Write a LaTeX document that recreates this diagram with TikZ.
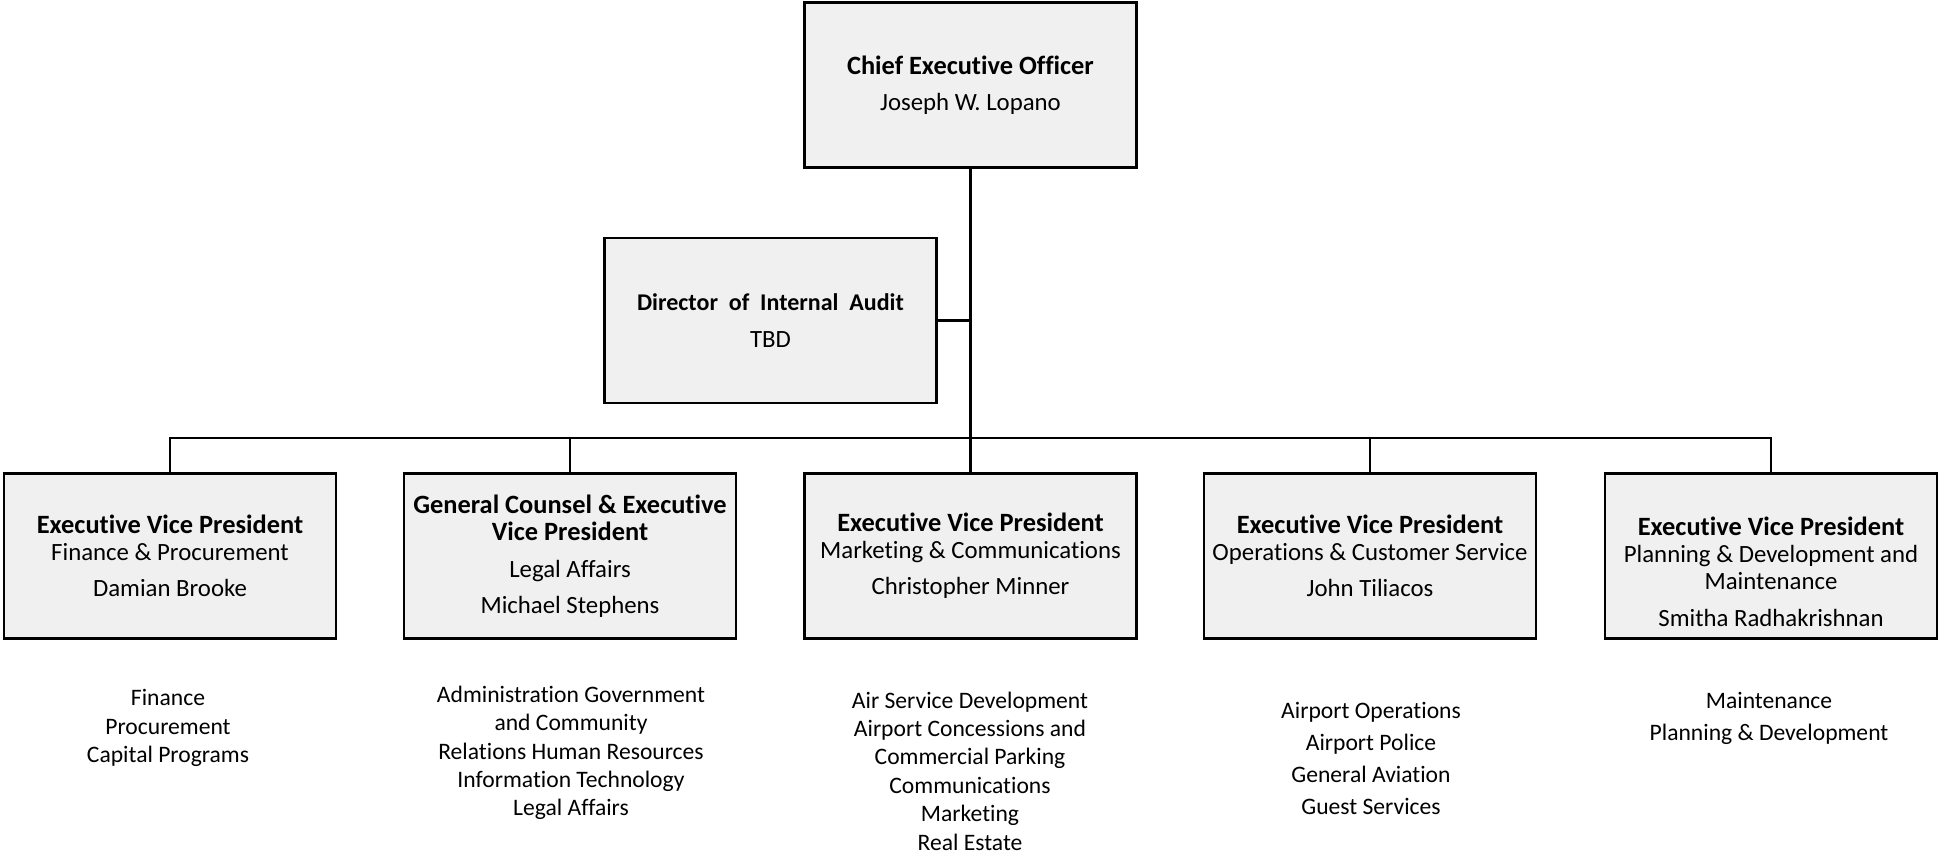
\documentclass[tikz,border=0pt]{standalone}
\usepackage{fontspec}
\setmainfont{Carlito}[Ligatures=CommonOff]
\usepackage{tikz}
\usetikzlibrary{positioning}
\definecolor{boxGray}{HTML}{F0F0F0}
\newcommand{\ttl}[1]{{\fontsize{13.2}{13.5}\selectfont\bfseries #1}}
\tikzset{box/.style={draw, line width=1.3pt, fill=boxGray, align=center,
  minimum width=166pt, minimum height=82.5pt, inner sep=2pt,
  font=\fontsize{12.4}{13.5}\selectfont}}
\tikzset{lst/.style={align=center, font=\fontsize{11.8}{14.2}\selectfont}}
\tikzset{lstw/.style={align=center, font=\fontsize{11.8}{16}\selectfont}}
\tikzset{ln/.style={draw, line width=1.3pt}}

\begin{document}
\begin{tikzpicture}[x=0.5pt, y=-0.5pt]
        \useasboundingbox (0,0) rectangle (1938,854);
        %% top
        \node (ceo) at (970.5,85) [box] {\ttl{Chief Executive Officer}\\[4.5pt] Joseph W. Lopano};
        \node (dir) at (770.5,320.5) [box] {{\fontsize{12}{13.5}\selectfont\bfseries Director~ of~ Internal~ Audit}\\[5pt] TBD};
        %% executive vice presidents
        \node (evp1) at (170,556) [box] {\ttl{Executive Vice President}\\ Finance \& Procurement\\[4.5pt] Damian Brooke};
        \node (evp2) at (570,556) [box] {\ttl{General Counsel \& Executive}\\ \ttl{Vice President}\\[5pt] Legal Affairs\\[4.5pt] Michael Stephens};
        \node (evp3) at (970.5,556) [box] {\ttl{Executive Vice President}\\ Marketing \& Communications\\[4.5pt] Christopher Minner};
        \node (evp4) at (1370,556) [box] {\ttl{Executive Vice President}\\ Operations \& Customer Service\\[4.5pt] John Tiliacos};
        \node (evp5) at (1771,556) [box] {\rule{0pt}{25pt}\ttl{Executive Vice President}\\ Planning \& Development and\\ Maintenance\\[5pt] Smitha Radhakrishnan};
        \coordinate (bus) at (970.5,438);
        \draw [ln] (ceo) -- (evp3);
        \draw [ln] (dir.east) -- (dir.east -| ceo.south);
        \draw [ln] (evp1.north) |- (bus) -| (evp5.north);
        \draw [ln] (evp2.north) |- (bus);
        \draw [ln] (evp4.north) |- (bus);
        %% departments
        \node (d1) at (168,728) [lst] {Finance\\ Procurement\\ Capital Programs};
        \node (d2) at (571,753) [lst] {Administration Government\\ and Community\\ Relations Human Resources\\ Information Technology\\ Legal Affairs};
        \node (d3) at (970,771) [lst] {Air Service Development\\ Airport Concessions and\\ Commercial Parking\\ Communications\\ Marketing\\ Real Estate};
        \node (d4) at (1371,758) [lstw] {Airport Operations\\ Airport Police\\ General Aviation\\ Guest Services};
        \node (d5) at (1769,718) [lstw] {Maintenance\\ Planning \& Development};
\end{tikzpicture}
\end{document}
